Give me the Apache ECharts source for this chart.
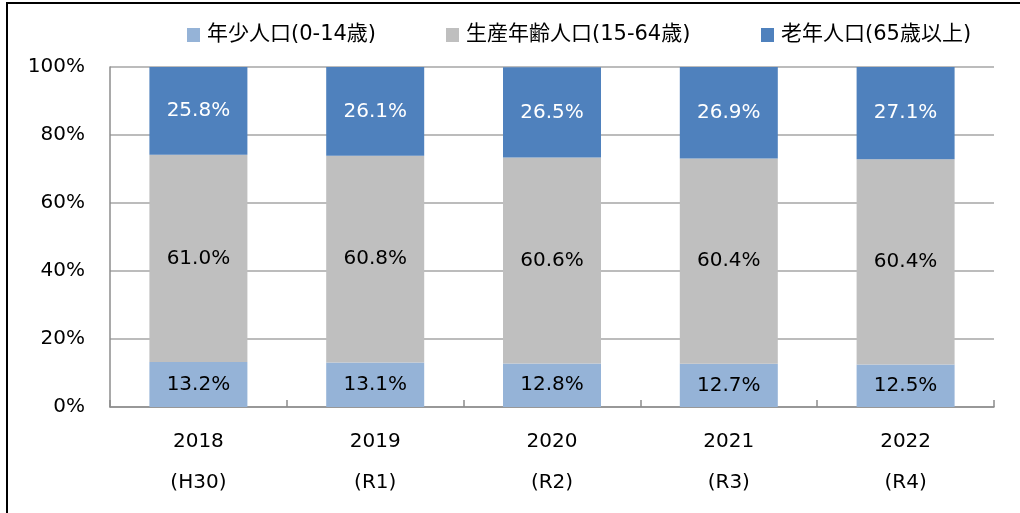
<!DOCTYPE html>
<html>
<head>
<meta charset="utf-8">
<script src="https://cdn.jsdelivr.net/npm/echarts@6/dist/echarts.min.js"></script>
<style>
  html, body { margin: 0; padding: 0; background: #fff; }
  #chart { width: 1020px; height: 513px; }
</style>
</head>
<body>
<div id="chart"></div>
<script>
// Population structure by age group (percent of total)
const years = ['2018', '2019', '2020', '2021', '2022'];
const eras = ['(H30)', '(R1)', '(R2)', '(R3)', '(R4)'];
const seriesNames = ['年少人口(0-14歳)', '生産年齢人口(15-64歳)', '老年人口(65歳以上)'];
const youth = [13.2, 13.1, 12.8, 12.7, 12.5];
const working = [61.0, 60.8, 60.6, 60.4, 60.4];
const elderly = [25.8, 26.1, 26.5, 26.9, 27.1];
const yTicks = [0, 20, 40, 60, 80, 100];

const colors = ['#95B3D7', '#BFBFBF', '#4F81BD'];
const labelColors = ['#000', '#000', '#fff'];
const legendLeft = [187, 446, 761];
const numFont = '"DejaVu Sans", Verdana, sans-serif';
const jpFont = '"DejaVu Sans", "Noto Sans CJK JP", sans-serif';

const categories = years.map((y, i) => y + '\n' + eras[i]);
const values = [youth, working, elderly];

const chart = echarts.init(document.getElementById('chart'), null, { renderer: 'canvas' });

chart.setOption({
  animation: false,
  backgroundColor: '#fff',
  graphic: [{
    type: 'rect',
    shape: { x: 7, y: 3, width: 1100, height: 600 },
    style: { fill: 'none', stroke: '#000', lineWidth: 2 },
    silent: true
  }],
  legend: seriesNames.map((name, i) => ({
    data: [name],
    left: legendLeft[i],
    top: 24,
    padding: 0,
    itemWidth: 13,
    itemHeight: 14,
    icon: 'rect',
    selectedMode: false,
    textStyle: {
      fontFamily: jpFont,
      fontSize: 21,
      color: '#000',
      lineHeight: 22,
      padding: [0, 0, 0, 2]
    }
  })),
  grid: { left: 110, right: 26, top: 67, bottom: 106, containLabel: false },
  xAxis: {
    type: 'category',
    data: categories,
    axisLine: { lineStyle: { color: '#8c8c8c', width: 1.5 } },
    axisTick: { show: true, inside: true, length: 7, alignWithLabel: false, lineStyle: { color: '#8c8c8c', width: 1.5 } },
    axisLabel: {
      fontFamily: numFont,
      fontSize: 20,
      color: '#000',
      lineHeight: 41,
      margin: 14
    }
  },
  yAxis: {
    type: 'value',
    min: yTicks[0],
    max: yTicks[yTicks.length - 1],
    interval: yTicks[1] - yTicks[0],
    axisLine: { show: true, lineStyle: { color: '#8c8c8c', width: 1.5 } },
    axisTick: { show: false },
    splitLine: { lineStyle: { color: '#a6a6a6', width: 1.5 } },
    axisLabel: {
      formatter: '{value}%',
      fontFamily: numFont,
      fontSize: 20,
      color: '#000',
      margin: 25
    }
  },
  series: seriesNames.map((name, i) => ({
    name: name,
    type: 'bar',
    stack: 'total',
    barWidth: 98,
    data: values[i],
    itemStyle: { color: colors[i] },
    label: {
      show: true,
      position: 'inside',
      formatter: p => p.value.toFixed(1) + '%',
      fontFamily: numFont,
      fontSize: 20,
      color: labelColors[i]
    }
  }))
});
</script>
</body>
</html>
